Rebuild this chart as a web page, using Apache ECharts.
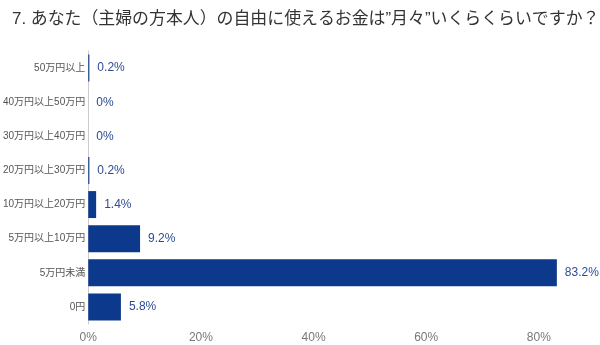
<!DOCTYPE html>
<html>
<head>
<meta charset="utf-8">
<script src="https://cdn.jsdelivr.net/npm/echarts@6/dist/echarts.min.js"></script>
<style>
  html, body { margin: 0; padding: 0; background: #fff; }
  #chart { width: 600px; height: 345px; }
</style>
</head>
<body>
<div id="chart"></div>
<script>
// Monthly disposable money for the housewife herself (share of respondents, %)
const titleText = '7. あなた（主婦の方本人）の自由に使えるお金は”月々”いくらくらいですか？';
const categories = ['0円', '5万円未満', '5万円以上10万円', '10万円以上20万円', '20万円以上30万円', '30万円以上40万円', '40万円以上50万円', '50万円以上'];
const values = [5.8, 83.2, 9.2, 1.4, 0.2, 0, 0, 0.2];
const tickValues = [0, 20, 40, 60, 80];

const font = '"Liberation Sans", "Noto Sans CJK JP", sans-serif';
const chart = echarts.init(document.getElementById('chart'));
chart.setOption({
  animation: false,
  title: {
    text: titleText,
    left: 7,
    top: 6,
    textStyle: { fontFamily: font, fontSize: 16.9, fontWeight: 'normal', color: '#333' }
  },
  grid: { left: 87, top: 51, width: 480, height: 273, containLabel: false },
  xAxis: {
    type: 'value',
    min: 0,
    max: 85,
    interval: 20,
    axisLine: { show: false },
    axisTick: { show: false },
    splitLine: { show: false },
    axisLabel: {
      showMaxLabel: false,
      margin: 8,
      color: '#777',
      fontFamily: font,
      fontSize: 12,
      formatter: function (v) { return tickValues.indexOf(v) >= 0 ? v + '%' : ''; }
    }
  },
  yAxis: {
    type: 'category',
    data: categories,
    axisLine: { show: true, lineStyle: { color: '#ccc', width: 1 } },
    axisTick: { show: false },
    axisLabel: { color: '#555', fontFamily: font, fontSize: 10, margin: 3 }
  },
  series: [{
    type: 'bar',
    data: values,
    barCategoryGap: '21%',
    itemStyle: { color: '#0c398b' },
    label: {
      show: true,
      position: 'right',
      distance: 8,
      color: '#2c4b94',
      fontFamily: font,
      fontSize: 12,
      formatter: function (p) { return p.value + '%'; }
    }
  }]
});
</script>
</body>
</html>
